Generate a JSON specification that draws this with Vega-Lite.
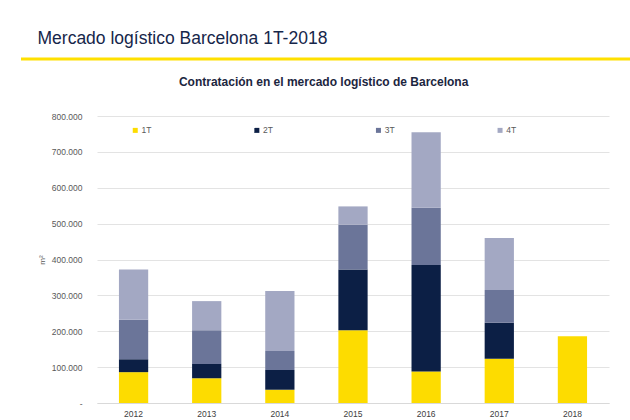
{
  "$schema": "https://vega.github.io/schema/vega-lite/v6.json",
  "background": "white",
  "padding": {"left": 19, "top": 30, "right": 0, "bottom": 0},
  "title": {"text": "Mercado logístico Barcelona 1T-2018", "anchor": "start", "frame": "bounds", "fontSize": 17.5, "fontWeight": "normal", "color": "#16264a", "dx": 18, "offset": 10},
  "columns": 1,
  "align": "none",
  "spacing": 15,
  "resolve": {"legend": {"color": "independent"}},
  "config": {"font": "Liberation Sans", "view": {"stroke": null}},
  "concat": [
    {
      "width": 533,
      "height": 1,
      "data": {"values": [{"v": 0, "from": -0.1426, "to": 1}]},
      "mark": {"type": "rule", "color": "#FFE000", "strokeWidth": 3, "clip": false},
      "encoding": {
        "x": {"field": "from", "type": "quantitative", "axis": null, "scale": {"domain": [0, 1], "nice": false, "zero": false}},
        "x2": {"field": "to"},
        "y": {"field": "v", "type": "quantitative", "axis": null, "scale": {"domain": [0, 1]}}
      }
    },
    {
      "width": 512,
      "height": 287,
      "title": {"text": "Contratación en el mercado logístico de Barcelona", "anchor": "middle", "frame": "bounds", "fontSize": 12, "fontWeight": "bold", "color": "#1c2640", "offset": 23},
      "data": {"values": [
        {"year": "2012", "q": "1T", "k": 1, "v": 86000},
        {"year": "2012", "q": "2T", "k": 2, "v": 36000},
        {"year": "2012", "q": "3T", "k": 3, "v": 110000},
        {"year": "2012", "q": "4T", "k": 4, "v": 140000},
        {"year": "2013", "q": "1T", "k": 1, "v": 69000},
        {"year": "2013", "q": "2T", "k": 2, "v": 40000},
        {"year": "2013", "q": "3T", "k": 3, "v": 94000},
        {"year": "2013", "q": "4T", "k": 4, "v": 81000},
        {"year": "2014", "q": "1T", "k": 1, "v": 37000},
        {"year": "2014", "q": "2T", "k": 2, "v": 55000},
        {"year": "2014", "q": "3T", "k": 3, "v": 53000},
        {"year": "2014", "q": "4T", "k": 4, "v": 167000},
        {"year": "2015", "q": "1T", "k": 1, "v": 203000},
        {"year": "2015", "q": "2T", "k": 2, "v": 169000},
        {"year": "2015", "q": "3T", "k": 3, "v": 125000},
        {"year": "2015", "q": "4T", "k": 4, "v": 51000},
        {"year": "2016", "q": "1T", "k": 1, "v": 88000},
        {"year": "2016", "q": "2T", "k": 2, "v": 297000},
        {"year": "2016", "q": "3T", "k": 3, "v": 159000},
        {"year": "2016", "q": "4T", "k": 4, "v": 211000},
        {"year": "2017", "q": "1T", "k": 1, "v": 123000},
        {"year": "2017", "q": "2T", "k": 2, "v": 101000},
        {"year": "2017", "q": "3T", "k": 3, "v": 91000},
        {"year": "2017", "q": "4T", "k": 4, "v": 145000},
        {"year": "2018", "q": "1T", "k": 1, "v": 186000}
      ]},
      "mark": {"type": "bar"},
      "encoding": {
        "x": {"field": "year", "type": "nominal", "scale": {"paddingInner": 0.6, "paddingOuter": 0.3},
              "axis": {"title": null, "labelAngle": 0, "labelFontSize": 8.5, "labelColor": "#404040", "labelPadding": 6, "ticks": false, "domainColor": "#d9d9d9"}},
        "y": {"field": "v", "type": "quantitative", "stack": "zero", "scale": {"domain": [0, 800000]},
              "axis": {"title": "m²", "titleFontSize": 8, "titleFontWeight": "normal", "titleColor": "#595959", "titlePadding": 5,
                       "values": [0, 100000, 200000, 300000, 400000, 500000, 600000, 700000, 800000],
                       "labelExpr": "datum.value == 0 ? '-' : (datum.value / 1000) + '.000'",
                       "labelFontSize": 8.5, "labelColor": "#595959", "labelPadding": 15, "ticks": false, "domain": false, "gridColor": "#e3e3e3"}},
        "color": {"field": "q", "type": "nominal",
                  "scale": {"domain": ["1T", "2T", "3T", "4T"], "range": ["#FDDC00", "#0C1F45", "#6B7599", "#A3A8C3"]},
                  "legend": {"title": null, "orient": "none", "legendX": 34, "legendY": 10, "direction": "horizontal", "columns": 4, "columnPadding": 100.6, "symbolType": "square", "symbolSize": 25, "labelFontSize": 8.5, "labelColor": "#595959", "labelOffset": 2, "symbolStrokeWidth": 0}},
        "order": {"field": "k", "type": "quantitative", "sort": "ascending"}
      }
    }
  ]
}
